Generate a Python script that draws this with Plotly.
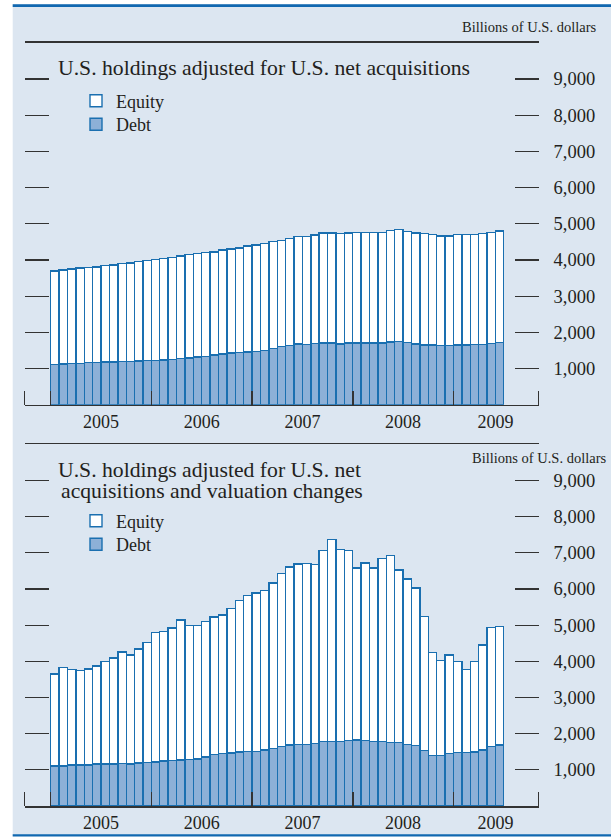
import plotly.graph_objects as go

# ---------------- data (monthly, Jan 2005 - Jun 2009) ----------------
month_index = list(range(54))
years = ["2005", "2006", "2007", "2008", "2009"]
year_label_pos = [5.5, 17.5, 29.5, 41.5, 52.5]
year_bounds = [-3.6, -0.5, 11.5, 23.5, 35.5, 47.5, 57.63]

# Panel 1: holdings adjusted for U.S. net acquisitions (billions USD)
debt_net = [1110, 1129, 1139, 1139, 1166, 1166, 1185, 1185, 1194, 1194,
            1212, 1231, 1231, 1240, 1259, 1277, 1296, 1323, 1342, 1370,
            1406, 1425, 1443, 1462, 1480, 1499, 1550, 1605, 1637, 1674,
            1665, 1693, 1702, 1702, 1684, 1702, 1702, 1702, 1702, 1702,
            1730, 1748, 1720, 1684, 1656, 1656, 1637, 1637, 1656, 1656,
            1665, 1665, 1693, 1720]
equity_net = [2580, 2596, 2614, 2642, 2633, 2642, 2660, 2679, 2707, 2726,
              2744, 2762, 2790, 2799, 2817, 2836, 2863, 2855, 2863, 2854,
              2864, 2873, 2883, 2919, 2938, 2956, 2955, 2933, 2956, 2975,
              2984, 2993, 3039, 3039, 3039, 3039, 3058, 3058, 3058, 3058,
              3076, 3086, 3067, 3066, 3067, 3048, 3030, 3030, 3048, 3048,
              3039, 3058, 3067, 3077]

# Panel 2: holdings adjusted for net acquisitions and valuation changes
debt_val = [1111, 1111, 1129, 1139, 1139, 1166, 1166, 1166, 1176, 1166,
            1185, 1203, 1222, 1240, 1259, 1277, 1287, 1305, 1360, 1416,
            1444, 1462, 1490, 1508, 1508, 1553, 1590, 1640, 1683, 1702,
            1702, 1730, 1776, 1785, 1785, 1804, 1822, 1804, 1776, 1776,
            1757, 1757, 1702, 1665, 1536, 1397, 1397, 1444, 1471, 1471,
            1490, 1553, 1646, 1692]
equity_val = [2541, 2726, 2644, 2606, 2652, 2699, 2837, 2930, 3086, 3013,
              3151, 3309, 3576, 3577, 3660, 3863, 3706, 3688, 3734, 3808,
              3835, 4002, 4187, 4316, 4381, 4401, 4576, 4785, 4927, 4990,
              5009, 4944, 5296, 5575, 5306, 5259, 4760, 4916, 4806, 5065,
              5176, 4770, 4575, 4362, 3696, 2847, 2625, 2735, 2523, 2302,
              2504, 2894, 3282, 3273]

ytick_vals = [1000, 2000, 3000, 4000, 5000, 6000, 7000, 8000, 9000]
ytick_text = ["1,000", "2,000", "3,000", "4,000", "5,000",
              "6,000", "7,000", "8,000", "9,000"]

# ---------------- styling ----------------
W, H = 611, 838
FONT = "Liberation Serif, Times New Roman, serif"
TXT = "#231f20"
AXC = "#333333"
BG = "#dce6f1"
BLUE_LINE = "#1168b0"
BAR_EDGE = "#1a6fb0"
DEBT_FILL = "#8db0d7"


def fx(px):
    return px / W


def fy(py):
    return 1 - py / H


fig = go.Figure()

edge = dict(color=BAR_EDGE, width=1.4)
fig.add_trace(go.Bar(x=month_index, y=debt_net, name="Debt",
                     marker=dict(color=DEBT_FILL, line=edge),
                     xaxis="x", yaxis="y", legend="legend2"))
fig.add_trace(go.Bar(x=month_index, y=equity_net, name="Equity",
                     marker=dict(color="white", line=edge),
                     xaxis="x", yaxis="y", legend="legend"))
fig.add_trace(go.Bar(x=month_index, y=debt_val, name="Debt",
                     marker=dict(color=DEBT_FILL, line=edge),
                     xaxis="x2", yaxis="y2", legend="legend4"))
fig.add_trace(go.Bar(x=month_index, y=equity_val, name="Equity",
                     marker=dict(color="white", line=edge),
                     xaxis="x2", yaxis="y2", legend="legend3"))

xdom = [fx(24.6), fx(538.6)]
top_dom = [fy(404.8), fy(42.7)]
bot_dom = [fy(806.0), fy(444.3)]


def xaxis_cfg(anchor):
    return dict(domain=xdom, anchor=anchor, range=[-3.61, 57.65],
                showline=True, linecolor=AXC, linewidth=1.5, mirror=True,
                tickmode="array", tickvals=year_label_pos, ticktext=years,
                ticks="", showgrid=False, zeroline=False,
                tickfont=dict(family=FONT, size=18, color=TXT),
                minor=dict(tickmode="array", tickvals=year_bounds, ticks="inside",
                           ticklen=14, tickwidth=1.5, tickcolor=AXC, showgrid=False),
                fixedrange=True)


def yaxis_cfg(anchor, dom):
    return dict(domain=dom, anchor=anchor, range=[0, 10000], side="right",
                showline=False, mirror="ticks", showgrid=False, zeroline=False,
                tickmode="array", tickvals=ytick_vals, ticktext=ytick_text,
                ticks="inside", ticklen=24, tickwidth=1.2, tickcolor=AXC,
                ticklabelstandoff=14,
                tickfont=dict(family=FONT, size=18.5, color=TXT),
                fixedrange=True)


legend_common = dict(font=dict(family=FONT, size=18, color=TXT),
                     bgcolor="rgba(0,0,0,0)", xanchor="left", yanchor="top",
                     itemclick=False, itemdoubleclick=False)

fig.update_layout(
    width=W, height=H, autosize=False,
    margin=dict(l=0, r=0, t=0, b=0),
    paper_bgcolor="white", plot_bgcolor="rgba(0,0,0,0)",
    barmode="stack", bargap=0,
    showlegend=True,
    xaxis=xaxis_cfg("y"), yaxis=yaxis_cfg("x", top_dom),
    xaxis2=xaxis_cfg("y2"), yaxis2=yaxis_cfg("x2", bot_dom),
    legend=dict(x=fx(76), y=fy(82.5), **legend_common),
    legend2=dict(x=fx(76), y=fy(106), **legend_common),
    legend3=dict(x=fx(76), y=fy(502.5), **legend_common),
    legend4=dict(x=fx(76), y=fy(526), **legend_common),
)

shapes = [
    dict(type="rect", xref="paper", yref="paper", x0=fx(12.7), x1=1,
         y0=fy(836), y1=fy(4.3), fillcolor=BG, line=dict(width=0), layer="below"),
    dict(type="rect", xref="paper", yref="paper", x0=fx(12.7), x1=1,
         y0=fy(7.0), y1=fy(4.3), fillcolor=BLUE_LINE, line=dict(width=0), layer="above"),
    dict(type="rect", xref="paper", yref="paper", x0=fx(12.7), x1=1,
         y0=fy(836.5), y1=fy(834.3), fillcolor=BLUE_LINE, line=dict(width=0), layer="above"),
]
fig.update_layout(shapes=shapes)

ann_font_units = dict(family=FONT, size=14.5, color=TXT)
ann_font_title = dict(family=FONT, size=21.7, color=TXT)
annotations = [
    dict(text="Billions of U.S. dollars", x=fx(598), y=fy(27), xref="paper", yref="paper",
         xanchor="right", yanchor="middle", showarrow=False, font=ann_font_units),
    dict(text="Billions of U.S. dollars", x=fx(607.5), y=fy(457.7), xref="paper", yref="paper",
         xanchor="right", yanchor="middle", showarrow=False, font=ann_font_units),
    dict(text="U.S. holdings adjusted for U.S. net acquisitions", x=fx(55.5), y=fy(68),
         xref="paper", yref="paper", xanchor="left", yanchor="middle", showarrow=False,
         font=ann_font_title),
    dict(text="U.S. holdings adjusted for U.S. net", x=fx(55.5), y=fy(469.5),
         xref="paper", yref="paper", xanchor="left", yanchor="middle", showarrow=False,
         font=ann_font_title),
    dict(text="acquisitions and valuation changes", x=fx(58.5), y=fy(490.5),
         xref="paper", yref="paper", xanchor="left", yanchor="middle", showarrow=False,
         font=ann_font_title),
]
fig.update_layout(annotations=annotations)

fig.write_html("out.html", config={"displayModeBar": False, "staticPlot": True},
               post_script="document.body.style.margin='0px';document.body.style.padding='0px';")
